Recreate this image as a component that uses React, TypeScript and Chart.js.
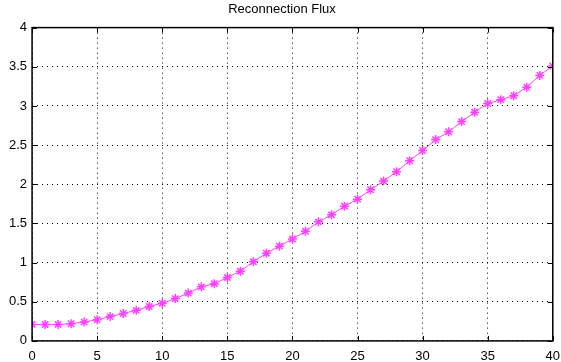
import React, { useEffect, useRef } from "react";
import { Chart, registerables } from "chart.js";

Chart.register(...registerables);

const titleText = "Reconnection Flux";
const xValues = [0,1,2,3,4,5,6,7,8,9,10,11,12,13,14,15,16,17,18,19,20,21,22,23,24,25,26,27,28,29,30,31,32,33,34,35,36,37,38,39,40];
const fluxValues = [0.21,0.21,0.21,0.22,0.24,0.27,0.31,0.35,0.39,0.44,0.48,0.54,0.61,0.69,0.73,0.81,0.89,1.01,1.12,1.21,1.30,1.40,1.52,1.61,1.72,1.81,1.93,2.04,2.16,2.30,2.43,2.57,2.67,2.80,2.92,3.03,3.08,3.13,3.24,3.39,3.51];
const xTicks = [0,5,10,15,20,25,30,35,40];
const yTicks = [0,0.5,1,1.5,2,2.5,3,3.5,4];

const FONT = "Liberation Sans, Arial, sans-serif";

const boxPlugin = {
  id: "matlabBox",
  afterDraw(chart: any) {
    const { ctx, chartArea: a, scales } = chart;
    ctx.save();
    ctx.strokeStyle = "#000";
    ctx.lineWidth = 1;
    const L = 5;
    ctx.beginPath();
    for (const v of xTicks) {
      const px = Math.round(scales.x.getPixelForValue(v)) + 0.5;
      ctx.moveTo(px, a.bottom); ctx.lineTo(px, a.bottom - L);
      ctx.moveTo(px, a.top); ctx.lineTo(px, a.top + L);
    }
    for (const v of yTicks) {
      const py = Math.round(scales.y.getPixelForValue(v)) + 0.5;
      ctx.moveTo(a.left, py); ctx.lineTo(a.left + L, py);
      ctx.moveTo(a.right, py); ctx.lineTo(a.right - L, py);
    }
    ctx.stroke();
    ctx.lineWidth = 1.5;
    ctx.strokeRect(a.left, a.top, a.right - a.left, a.bottom - a.top);
    ctx.restore();
  },
};

export default function App() {
  const ref = useRef<HTMLCanvasElement>(null);
  useEffect(() => {
    document.body.style.margin = "0";
    const chart = new Chart(ref.current!, {
      type: "line",
      data: {
        datasets: [
          {
            data: xValues.map((x, i) => ({ x, y: fluxValues[i] })),
            borderColor: "#ff40ff",
            backgroundColor: "#ff40ff",
            borderWidth: 1,
            pointStyle: "star",
            pointRadius: 4.5,
            pointBorderWidth: 1.5,
            pointBorderColor: "#ff40ff",
            tension: 0,
          },
        ],
      },
      options: {
        animation: false,
        responsive: false,
        layout: { padding: { left: 4, right: 1, top: 0, bottom: -3.5 } },
        plugins: {
          legend: { display: false },
          tooltip: { enabled: false },
          title: {
            display: true,
            text: titleText,
            color: "#000",
            font: { family: FONT, size: 13, weight: "normal" },
            padding: { top: 2, bottom: 10 },
          },
        },
        scales: {
          x: {
            type: "linear",
            min: 0,
            max: 40,
            afterBuildTicks: (s: any) => { s.ticks = xTicks.map((v) => ({ value: v })); },
            ticks: { color: "#000", font: { family: FONT, size: 13 }, padding: 1, maxRotation: 0, callback: (v: any) => String(v) },
            grid: { color: "#000", lineWidth: 1, drawTicks: true, tickLength: 7, tickColor: "rgba(0,0,0,0)" },
            border: { display: false, dash: [1, 4] },
          },
          y: {
            type: "linear",
            min: 0,
            max: 4,
            afterBuildTicks: (s: any) => { s.ticks = yTicks.map((v) => ({ value: v })); },
            ticks: { color: "#000", font: { family: FONT, size: 13 }, padding: 5, callback: (v: any) => String(v) },
            grid: { color: "#000", lineWidth: 1, drawTicks: false },
            border: { display: false, dash: [1, 4] },
          },
        },
      } as any,
      plugins: [boxPlugin],
    });
    return () => chart.destroy();
  }, []);
  return <canvas ref={ref} width={561} height={362} style={{ display: "block" }} />;
}
